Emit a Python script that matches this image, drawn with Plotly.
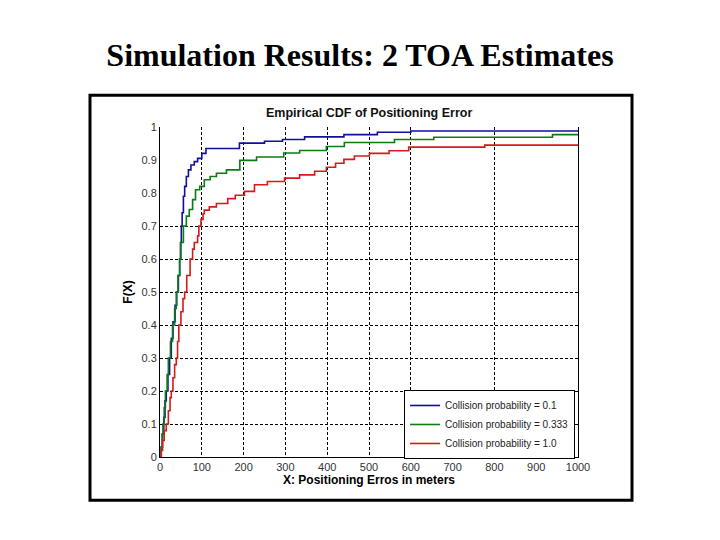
import plotly.graph_objects as go

# empirical CDF readings (x in meters, F(x)) for the three collision probabilities
blue_x = [0, 3, 6, 9, 12, 15, 19, 23, 27, 31, 36, 40, 44, 47, 49, 51, 53, 56,
          59, 63, 68, 74, 82, 90, 100, 110, 190, 250, 293, 346, 440, 520, 600,
          1000]
blue_y = [0, 0.03, 0.07, 0.12, 0.17, 0.2, 0.25, 0.3, 0.36, 0.41, 0.46, 0.5,
          0.55, 0.6, 0.65, 0.7, 0.74, 0.79, 0.82, 0.85, 0.87, 0.885, 0.895,
          0.905, 0.92, 0.935, 0.951, 0.957, 0.962, 0.970, 0.977, 0.984, 0.988,
          0.988]

green_x = [0, 3, 5, 7, 10, 13, 17, 20, 25, 30, 35, 39, 43, 47, 50, 56, 63,
           70, 78, 85, 95, 106, 120, 135, 159, 191, 231, 296, 334, 398, 441,
           561, 655, 939, 1000]
green_y = [0, 0.03, 0.07, 0.1, 0.15, 0.2, 0.25, 0.3, 0.35, 0.4, 0.45, 0.5,
           0.55, 0.6, 0.65, 0.7, 0.73, 0.75, 0.78, 0.81, 0.82, 0.84, 0.85,
           0.86, 0.87, 0.899, 0.909, 0.921, 0.929, 0.941, 0.953, 0.962, 0.969,
           0.977, 0.977]

red_x = [0, 3, 6, 10, 15, 20, 24, 27, 31, 35, 39, 42, 45, 50, 55, 59, 64, 72,
         78, 82, 90, 93, 98, 103, 106, 118, 135, 162, 180, 202, 226, 257, 298,
         334, 370, 398, 420, 440, 465, 501, 548, 595, 777, 1000]
red_y = [0, 0.02, 0.05, 0.08, 0.1, 0.14, 0.18, 0.2, 0.24, 0.28, 0.3, 0.35,
         0.4, 0.44, 0.48, 0.5, 0.55, 0.6, 0.63, 0.65, 0.67, 0.7, 0.72, 0.737,
         0.748, 0.758, 0.768, 0.783, 0.793, 0.805, 0.825, 0.835, 0.845, 0.855,
         0.866, 0.878, 0.89, 0.902, 0.912, 0.92, 0.928, 0.939, 0.945, 0.945]

series_names = ['Collision probability = 0.1',
                'Collision probability = 0.333',
                'Collision probability = 1.0']

x_ticks = [0, 100, 200, 300, 400, 500, 600, 700, 800, 900, 1000]
y_ticks = [0, 0.1, 0.2, 0.3, 0.4, 0.5, 0.6, 0.7, 0.8, 0.9, 1]
y_tick_text = ['0', '0.1', '0.2', '0.3', '0.4', '0.5', '0.6', '0.7', '0.8',
               '0.9', '1']

# grid lines that survive in the scanned figure
x_grid = [100, 200, 300, 400, 500, 600, 800]
y_grid = [0.1, 0.2, 0.3, 0.4, 0.5, 0.6, 0.7]

sans = 'Liberation Sans, Arial, sans-serif'

# page has an 8px body margin, so positions are offset by it
off = 8
left, right_px, top, bottom = 160 - off, 578 - off, 126.7 - off, 456.7 - off
pw, ph = right_px - left, bottom - top

fig = go.Figure()

# invisible trace so the grid axes get drawn
fig.add_trace(go.Scatter(x=[None], y=[None], xaxis='x2', yaxis='y2',
                         showlegend=False, hoverinfo='skip'))

colors = ['#10109a', '#0a7d12', '#d41a1a']
for xs, ys, name, c in zip([blue_x, green_x, red_x],
                           [blue_y, green_y, red_y], series_names, colors):
    fig.add_trace(go.Scatter(x=xs, y=ys, mode='lines', name=name,
                             line=dict(color=c, width=1.6, shape='hv')))

fig.update_layout(
    width=720, height=540,
    paper_bgcolor='white', plot_bgcolor='white',
    margin=dict(l=left, r=720 - right_px, t=top, b=540 - bottom),
    title=dict(text='<b>Simulation Results: 2 TOA Estimates</b>',
               font=dict(family='Liberation Serif, Times New Roman, serif',
                         size=32, color='black'),
               x=(360 - off) / 720, xanchor='center',
               y=1 - (55 - off) / 540, yanchor='middle', yref='container'),
    xaxis=dict(range=[0, 1000], tickvals=x_ticks, showgrid=False,
               zeroline=False, showline=True, linecolor='black',
               linewidth=1, ticks='', tickfont=dict(family=sans, size=11,
                                                    color='#333'),
               title=dict(text='<b>X: Positioning Erros in meters</b>',
                          font=dict(family=sans, size=12, color='black'),
                          standoff=2)),
    yaxis=dict(range=[0, 1], tickvals=y_ticks, ticktext=y_tick_text,
               showgrid=False, zeroline=False, showline=True,
               linecolor='black', linewidth=1, mirror=True, ticks='',
               tickfont=dict(family=sans, size=11, color='#333'),
               title=dict(text='<b>F(X)</b>',
                          font=dict(family=sans, size=12, color='black'),
                          standoff=6)),
    xaxis2=dict(range=[0, 1000], overlaying='x', tickvals=x_grid,
                showticklabels=False, showgrid=True, gridcolor='black',
                griddash='3px,2px', gridwidth=1, zeroline=False),
    yaxis2=dict(range=[0, 1], overlaying='y', tickvals=y_grid,
                showticklabels=False, showgrid=True, gridcolor='black',
                griddash='3px,2px', gridwidth=1, zeroline=False),
    legend=dict(x=0.993, y=-0.006, xanchor='right', yanchor='bottom',
                bgcolor='white', bordercolor='black', borderwidth=1,
                font=dict(family=sans, size=10, color='#222'),
                itemwidth=30, tracegroupgap=0),
    showlegend=True,
)

# chart title inside the framed figure
fig.add_annotation(text='<b>Empirical CDF of Positioning Error</b>',
                   xref='paper', yref='paper', x=0.5,
                   y=(bottom - (113 - off)) / ph,
                   showarrow=False, yanchor='middle',
                   font=dict(family=sans, size=12.5, color='#111'))

# black frame around the pasted figure
fig.add_shape(type='rect', xref='paper', yref='paper',
              x0=(90 - off - left) / pw, x1=(632 - off - left) / pw,
              y0=(bottom - (500 - off)) / ph, y1=(bottom - (95 - off)) / ph,
              line=dict(color='black', width=3), layer='below')

fig.write_html('out.html')
